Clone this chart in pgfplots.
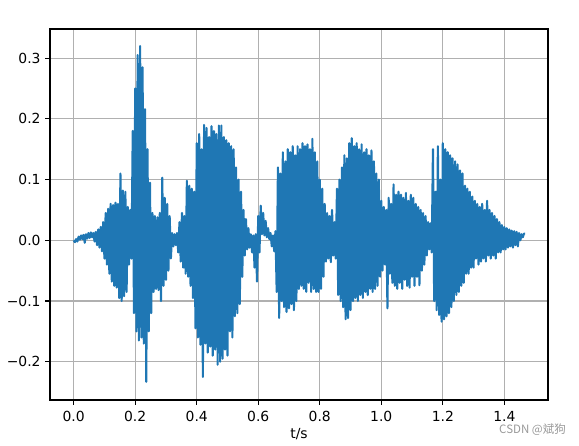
\documentclass[border=0pt]{standalone}
\usepackage{fontspec}
\setmainfont{DejaVu Sans}
\newfontfamily\cjk{Noto Sans CJK SC}
\usepackage{pgfplots}
\pgfplotsset{compat=1.18}
\definecolor{mplblue}{HTML}{1F77B4}
\definecolor{gridgray}{HTML}{B0B0B0}
\newcommand{\tk}{\fontsize{13.9}{16.7}\selectfont}

\begin{document}
\begin{tikzpicture}
\begin{axis}[
  scale only axis,
  width=498pt, height=371pt,
  xmin=-0.077, xmax=1.542,
  ymin=-0.263, ymax=0.348,
  xtick={0,0.2,0.4,0.6,0.8,1.0,1.2,1.4},
  xticklabels={0.0,0.2,0.4,0.6,0.8,1.0,1.2,1.4},
  ytick={-0.2,-0.1,0,0.1,0.2,0.3},
  yticklabels={−0.2,−0.1,0.0,0.1,0.2,0.3},
  tick align=outside, tick pos=left,
  major tick length=4.9pt,
  every tick/.style={black, line width=1.1pt},
  ticklabel style={font=\tk},
  xticklabel style={yshift=-2.5pt},
  yticklabel style={xshift=-1pt},
  xlabel={t/s}, xlabel style={font=\tk, yshift=0pt},
  grid=major,
  major grid style={gridgray, line width=1.1pt},
  axis line style={black, line width=1.1pt},
]
\addplot[mplblue, line width=2.1pt, line join=round, mark=none] coordinates {
(0.000,0.000) (0.004,-0.003) (0.008,0.002) (0.012,-0.002) (0.016,0.006)
(0.020,0.001) (0.024,0.008) (0.028,0.002) (0.032,0.009) (0.036,-0.004)
(0.040,0.010) (0.044,0.003) (0.048,0.012) (0.052,0.004) (0.056,0.013)
(0.060,0.005) (0.064,0.012) (0.068,-0.002) (0.072,0.014) (0.076,-0.008)
(0.080,0.018) (0.084,-0.012) (0.088,0.022) (0.092,-0.018) (0.096,0.030)
(0.100,-0.030) (0.104,0.045) (0.108,-0.040) (0.112,0.052) (0.116,-0.055)
(0.120,0.060) (0.124,-0.068) (0.128,0.058) (0.132,-0.075) (0.136,0.062)
(0.140,-0.078) (0.144,0.060) (0.148,-0.095) (0.152,0.110) (0.156,-0.100)
(0.160,0.082) (0.164,-0.092) (0.168,0.080) (0.172,-0.085) (0.176,0.055)
(0.180,-0.040) (0.184,0.050) (0.188,-0.030) (0.192,0.180) (0.196,-0.120)
(0.200,0.250) (0.204,-0.150) (0.208,0.305) (0.212,-0.165) (0.216,0.320)
(0.220,-0.160) (0.224,0.285) (0.228,-0.170) (0.232,0.216) (0.236,-0.233)
(0.240,0.150) (0.244,-0.150) (0.248,0.095) (0.252,-0.120) (0.256,0.045)
(0.260,-0.085) (0.264,0.040) (0.268,-0.080) (0.272,0.038) (0.276,-0.082)
(0.280,0.045) (0.284,-0.100) (0.288,0.103) (0.292,-0.075) (0.296,0.070)
(0.300,-0.065) (0.304,0.060) (0.308,-0.050) (0.312,0.040) (0.316,-0.030)
(0.320,0.012) (0.324,-0.010) (0.328,0.010) (0.332,-0.008) (0.336,0.012)
(0.340,-0.020) (0.344,0.030) (0.348,-0.035) (0.352,0.045) (0.356,-0.045)
(0.360,0.040) (0.364,-0.055) (0.368,0.098) (0.372,-0.060) (0.376,0.090)
(0.380,-0.075) (0.384,0.085) (0.388,-0.095) (0.392,0.080) (0.396,-0.145)
(0.400,0.160) (0.404,-0.160) (0.408,0.175) (0.412,-0.172) (0.416,0.150)
(0.420,-0.225) (0.424,0.190) (0.428,-0.170) (0.432,0.185) (0.436,-0.185)
(0.440,0.170) (0.444,-0.175) (0.448,0.188) (0.452,-0.190) (0.456,0.180)
(0.460,-0.180) (0.464,0.175) (0.468,-0.205) (0.472,0.189) (0.476,-0.200)
(0.480,0.189) (0.484,-0.195) (0.488,0.170) (0.492,-0.180) (0.496,0.165)
(0.500,-0.190) (0.504,0.160) (0.508,-0.150) (0.512,0.155) (0.516,-0.160)
(0.520,0.150) (0.524,-0.125) (0.528,0.120) (0.532,-0.120) (0.536,0.100)
(0.540,-0.105) (0.544,0.080) (0.548,-0.060) (0.552,0.050) (0.556,-0.025)
(0.560,0.035) (0.564,-0.015) (0.568,0.020) (0.572,-0.012) (0.576,0.010)
(0.580,-0.020) (0.584,0.008) (0.588,-0.045) (0.592,0.010) (0.596,-0.068)
(0.600,0.040) (0.604,-0.020) (0.608,0.057) (0.612,0.010) (0.616,0.045)
(0.620,0.008) (0.624,0.032) (0.628,0.005) (0.632,0.020) (0.636,0.002)
(0.640,0.012) (0.644,-0.010) (0.648,0.008) (0.652,-0.018) (0.656,0.015)
(0.660,-0.085) (0.664,0.120) (0.668,-0.128) (0.672,0.110) (0.676,-0.100)
(0.680,0.145) (0.684,-0.110) (0.688,0.130) (0.692,-0.118) (0.696,0.150)
(0.700,-0.112) (0.704,0.145) (0.708,-0.105) (0.712,0.155) (0.716,-0.115)
(0.720,0.140) (0.724,-0.100) (0.728,0.155) (0.732,-0.080) (0.736,0.150)
(0.740,-0.075) (0.744,0.160) (0.748,-0.080) (0.752,0.155) (0.756,-0.085)
(0.760,0.158) (0.764,-0.070) (0.768,0.150) (0.772,-0.085) (0.776,0.167)
(0.780,-0.080) (0.784,0.145) (0.788,-0.085) (0.792,0.130) (0.796,-0.085)
(0.800,0.100) (0.804,-0.080) (0.808,0.085) (0.812,-0.060) (0.816,0.060)
(0.820,-0.035) (0.824,0.045) (0.828,-0.030) (0.832,0.040) (0.836,-0.036)
(0.840,0.050) (0.844,-0.025) (0.848,0.030) (0.852,-0.030) (0.856,0.085)
(0.860,-0.090) (0.864,0.100) (0.868,-0.100) (0.872,0.120) (0.876,-0.110)
(0.880,0.140) (0.884,-0.130) (0.888,0.135) (0.892,-0.128) (0.896,0.160)
(0.900,-0.115) (0.904,0.168) (0.908,-0.100) (0.912,0.155) (0.916,-0.095)
(0.920,0.160) (0.924,-0.100) (0.928,0.150) (0.932,-0.090) (0.936,0.158)
(0.940,-0.095) (0.944,0.145) (0.948,-0.085) (0.952,0.150) (0.956,-0.090)
(0.960,0.140) (0.964,-0.080) (0.968,0.148) (0.972,-0.085) (0.976,0.130)
(0.980,-0.080) (0.984,0.110) (0.988,-0.075) (0.992,0.100) (0.996,-0.060)
(1.000,0.065) (1.004,-0.050) (1.008,0.055) (1.012,-0.040) (1.016,0.050)
(1.020,-0.112) (1.024,0.070) (1.028,-0.055) (1.032,0.060) (1.036,-0.070)
(1.040,0.092) (1.044,-0.075) (1.048,0.075) (1.052,-0.080) (1.056,0.080)
(1.060,-0.070) (1.064,0.075) (1.068,-0.080) (1.072,0.070) (1.076,-0.065)
(1.080,0.078) (1.084,-0.075) (1.088,0.065) (1.092,-0.078) (1.096,0.075)
(1.100,-0.060) (1.104,0.070) (1.108,-0.075) (1.112,0.060) (1.116,-0.060)
(1.120,0.055) (1.124,-0.074) (1.128,0.050) (1.132,-0.050) (1.136,0.045)
(1.140,-0.040) (1.144,0.040) (1.148,-0.025) (1.152,0.030) (1.156,-0.015)
(1.160,0.028) (1.164,-0.020) (1.168,0.150) (1.172,-0.100) (1.176,0.080)
(1.180,-0.115) (1.184,0.155) (1.188,-0.123) (1.192,0.100) (1.196,-0.134)
(1.200,0.160) (1.204,-0.130) (1.208,0.150) (1.212,-0.125) (1.216,0.145)
(1.220,-0.120) (1.224,0.140) (1.228,-0.110) (1.232,0.135) (1.236,-0.100)
(1.240,0.130) (1.244,-0.090) (1.248,0.125) (1.252,-0.085) (1.256,0.115)
(1.260,-0.075) (1.264,0.110) (1.268,-0.070) (1.272,0.090) (1.276,-0.055)
(1.280,0.085) (1.284,-0.055) (1.288,0.080) (1.292,-0.045) (1.296,0.072)
(1.300,-0.045) (1.304,0.065) (1.308,-0.030) (1.312,0.060) (1.316,-0.040)
(1.320,0.055) (1.324,-0.035) (1.328,0.060) (1.332,-0.030) (1.336,0.050)
(1.340,-0.035) (1.344,0.065) (1.348,-0.025) (1.352,0.050) (1.356,-0.030)
(1.360,0.045) (1.364,-0.025) (1.368,0.040) (1.372,-0.030) (1.376,0.035)
(1.380,-0.020) (1.384,0.030) (1.388,-0.020) (1.392,0.025) (1.396,-0.015)
(1.400,0.022) (1.404,-0.015) (1.408,0.020) (1.412,-0.012) (1.416,0.018)
(1.420,-0.010) (1.424,0.016) (1.428,-0.012) (1.432,0.015) (1.436,-0.008)
(1.440,0.014) (1.444,-0.010) (1.448,0.012) (1.452,0.000) (1.456,0.010)
(1.460,0.005) (1.464,0.011) (1.468,0.011)
};
\end{axis}
% watermark and page size
\node[anchor=east, text=black!40, font=\cjk\fontsize{11.5}{13}\selectfont, inner sep=0pt] at (516pt,-30pt) {CSDN @斌狗};
\path[use as bounding box] (-50pt,-45pt) rectangle (529pt,400pt);
\end{tikzpicture}
\end{document}
